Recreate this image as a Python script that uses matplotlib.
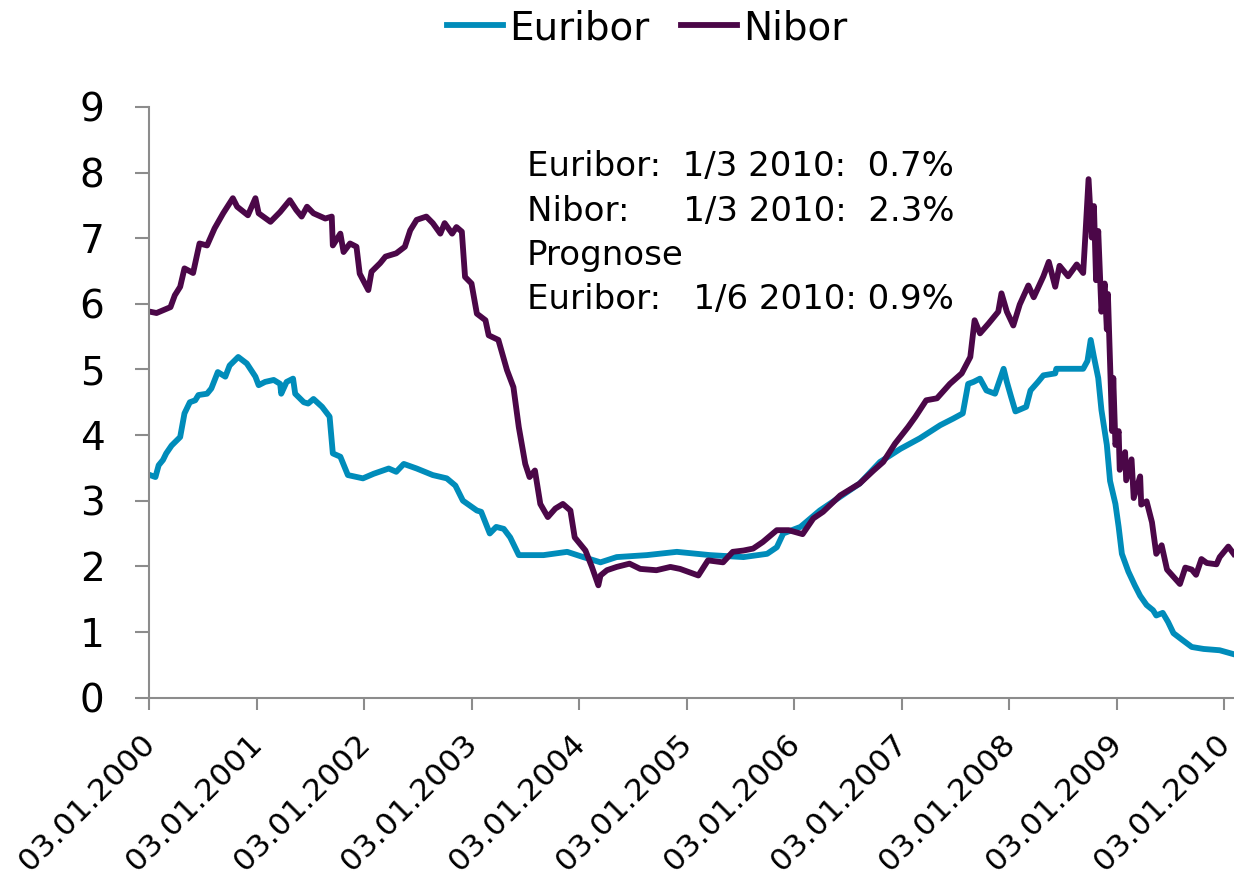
import matplotlib
matplotlib.use("Agg")
import matplotlib.pyplot as plt
from matplotlib.transforms import ScaledTranslation

# 3-month interest rates (x in decimal years from 03.01.2000)
euribor_t = [2000.01, 2000.06, 2000.09, 2000.13, 2000.16, 2000.21, 2000.29, 2000.33, 2000.38, 2000.43,
             2000.46, 2000.54, 2000.58, 2000.64, 2000.71, 2000.75, 2000.83, 2000.91, 2000.99, 2001.02,
             2001.08, 2001.16, 2001.22, 2001.23, 2001.28, 2001.34, 2001.36, 2001.44, 2001.48, 2001.53,
             2001.61, 2001.68, 2001.71, 2001.78, 2001.85, 2001.99, 2002.09, 2002.23, 2002.30, 2002.37,
             2002.49, 2002.64, 2002.77, 2002.85, 2002.92, 2003.05, 2003.09, 2003.17, 2003.23, 2003.30,
             2003.36, 2003.44, 2003.67, 2003.89, 2004.04, 2004.20, 2004.35, 2004.63, 2004.91, 2005.22,
             2005.53, 2005.75, 2005.84, 2005.90, 2006.06, 2006.24, 2006.43, 2006.61, 2006.80, 2006.99,
             2007.17, 2007.36, 2007.48, 2007.57, 2007.62, 2007.67, 2007.73, 2007.79, 2007.87, 2007.95,
             2007.98, 2008.02, 2008.06, 2008.16, 2008.20, 2008.27, 2008.32, 2008.43, 2008.44, 2008.69,
             2008.73, 2008.76, 2008.79, 2008.83, 2008.86, 2008.91, 2008.94, 2008.99, 2009.02, 2009.05,
             2009.11, 2009.17, 2009.22, 2009.28, 2009.34, 2009.37, 2009.43, 2009.48, 2009.53, 2009.61,
             2009.70, 2009.81, 2009.96, 2010.09]
euribor = [3.39, 3.36, 3.54, 3.62, 3.72, 3.84, 3.97, 4.33, 4.50, 4.53,
           4.61, 4.63, 4.71, 4.96, 4.89, 5.06, 5.19, 5.09, 4.89, 4.76,
           4.81, 4.84, 4.78, 4.63, 4.81, 4.86, 4.63, 4.50, 4.48, 4.55,
           4.43, 4.28, 3.72, 3.67, 3.39, 3.34, 3.41, 3.49, 3.44, 3.56,
           3.49, 3.39, 3.34, 3.23, 3.00, 2.85, 2.83, 2.50, 2.60, 2.57,
           2.44, 2.17, 2.17, 2.22, 2.14, 2.06, 2.14, 2.17, 2.22, 2.17,
           2.14, 2.19, 2.29, 2.50, 2.60, 2.85, 3.06, 3.26, 3.59, 3.79,
           3.95, 4.15, 4.25, 4.33, 4.78, 4.81, 4.86, 4.68, 4.63, 5.01,
           4.81, 4.58, 4.36, 4.43, 4.68, 4.81, 4.91, 4.94, 5.01, 5.01,
           5.13, 5.45, 5.19, 4.87, 4.38, 3.85, 3.30, 2.95, 2.60, 2.19,
           1.92, 1.71, 1.55, 1.41, 1.33, 1.25, 1.29, 1.15, 0.98, 0.88,
           0.77, 0.74, 0.72, 0.66]

nibor_t = [2000.01, 2000.07, 2000.20, 2000.24, 2000.29, 2000.33, 2000.41, 2000.47, 2000.54, 2000.61,
           2000.69, 2000.78, 2000.82, 2000.92, 2000.99, 2001.02, 2001.13, 2001.22, 2001.31, 2001.37,
           2001.42, 2001.47, 2001.53, 2001.64, 2001.70, 2001.71, 2001.78, 2001.81, 2001.87, 2001.93,
           2001.96, 2002.04, 2002.07, 2002.15, 2002.20, 2002.30, 2002.38, 2002.43, 2002.49, 2002.58,
           2002.64, 2002.71, 2002.75, 2002.82, 2002.86, 2002.91, 2002.94, 2003.00, 2003.05, 2003.13,
           2003.16, 2003.25, 2003.33, 2003.39, 2003.44, 2003.50, 2003.54, 2003.59, 2003.64, 2003.71,
           2003.78, 2003.85, 2003.92, 2003.96, 2004.06, 2004.12, 2004.18, 2004.20, 2004.26, 2004.35,
           2004.47, 2004.57, 2004.72, 2004.85, 2004.94, 2005.06, 2005.11, 2005.20, 2005.34, 2005.43,
           2005.53, 2005.62, 2005.71, 2005.84, 2005.95, 2006.08, 2006.18, 2006.27, 2006.43, 2006.61,
           2006.74, 2006.83, 2006.94, 2007.06, 2007.13, 2007.23, 2007.33, 2007.45, 2007.56, 2007.64,
           2007.68, 2007.73, 2007.81, 2007.90, 2007.93, 2007.98, 2008.04, 2008.10, 2008.18, 2008.23,
           2008.32, 2008.37, 2008.43, 2008.47, 2008.55, 2008.63, 2008.69, 2008.71, 2008.74, 2008.77,
           2008.79, 2008.81, 2008.83, 2008.85, 2008.86, 2008.89, 2008.91, 2008.92, 2008.96, 2008.97,
           2008.99, 2009.02, 2009.03, 2009.08, 2009.09, 2009.14, 2009.16, 2009.22, 2009.23, 2009.28,
           2009.33, 2009.37, 2009.42, 2009.47, 2009.53, 2009.59, 2009.64, 2009.70, 2009.74, 2009.79,
           2009.84, 2009.93, 2009.96, 2010.04, 2010.09]
nibor = [5.88, 5.86, 5.95, 6.13, 6.26, 6.54, 6.47, 6.92, 6.89, 7.15,
         7.38, 7.61, 7.48, 7.35, 7.61, 7.38, 7.25, 7.40, 7.58, 7.43,
         7.33, 7.48, 7.38, 7.30, 7.33, 6.89, 7.07, 6.79, 6.92, 6.87,
         6.46, 6.21, 6.49, 6.62, 6.72, 6.77, 6.87, 7.12, 7.28, 7.33,
         7.23, 7.07, 7.23, 7.07, 7.17, 7.10, 6.41, 6.31, 5.85, 5.75,
         5.52, 5.45, 4.99, 4.73, 4.12, 3.56, 3.36, 3.46, 2.95, 2.75,
         2.88, 2.95, 2.85, 2.44, 2.24, 1.99, 1.71, 1.86, 1.94, 1.99,
         2.04, 1.96, 1.94, 1.99, 1.96, 1.89, 1.86, 2.09, 2.06, 2.22,
         2.24, 2.27, 2.37, 2.55, 2.55, 2.49, 2.73, 2.83, 3.08, 3.26,
         3.46, 3.59, 3.87, 4.12, 4.28, 4.53, 4.56, 4.78, 4.94, 5.19,
         5.75, 5.55, 5.70, 5.88, 6.16, 5.88, 5.67, 5.99, 6.28, 6.10,
         6.42, 6.64, 6.26, 6.58, 6.42, 6.60, 6.47, 7.03, 7.90, 7.01,
         7.49, 6.36, 7.11, 6.31, 5.88, 6.31, 5.61, 6.15, 4.06, 4.87,
         3.85, 4.06, 3.47, 3.74, 3.31, 3.63, 3.04, 3.37, 2.94, 2.99,
         2.67, 2.19, 2.32, 1.95, 1.84, 1.73, 1.98, 1.95, 1.87, 2.11,
         2.05, 2.03, 2.14, 2.30, 2.19]

years = list(range(2000, 2011))
year_labels = ["03.01.%d" % y for y in years]

note_lines = ["Euribor:  1/3 2010:  0.7%",
              "Nibor:     1/3 2010:  2.3%",
              "Prognose",
              "Euribor:   1/6 2010: 0.9%"]

W, H = 1234, 890
fig = plt.figure(figsize=(W / 100, H / 100), dpi=100)
ax = fig.add_axes([149 / W, 1 - 697.5 / H, (W - 149) / W, (697.5 - 107) / H])

l1, = ax.plot(euribor_t, euribor, color="#008CBA", lw=4.2, solid_joinstyle="round", label="Euribor")
l2, = ax.plot(nibor_t, nibor, color="#4B0748", lw=4.2, solid_joinstyle="round", label="Nibor")

ax.set_xlim(2000, 2000 + (W - 149) / 107.5)
ax.set_ylim(0, 9)
ax.set_yticks(range(0, 10))
ax.set_xticks(years)
ax.set_xticklabels(year_labels, rotation=45, ha="right", va="top", rotation_mode="anchor")

for s in ["top", "right"]:
    ax.spines[s].set_visible(False)
for s in ["left", "bottom"]:
    ax.spines[s].set_color("#8C8C8C")
    ax.spines[s].set_linewidth(1.5)

ax.tick_params(axis="y", length=10, width=1.5, color="#8C8C8C", pad=22, labelsize=28)
ax.tick_params(axis="x", length=8.5, width=1.5, color="#8C8C8C", pad=14, labelsize=22.5)
for lab in ax.get_xticklabels():
    lab.set_transform(lab.get_transform() + ScaledTranslation(-0.09, 0, fig.dpi_scale_trans))

fig.legend(handles=[l1, l2], loc="center", bbox_to_anchor=(647 / W, 1 - 28 / H), ncol=2,
           frameon=False, fontsize=28, handlelength=1.45, handletextpad=0.15, columnspacing=0.8)

for i, line in enumerate(note_lines):
    fig.text(527 / W, 1 - (176 + i * 44.5) / H, line, fontsize=24.5, va="baseline", ha="left")

fig.savefig("out.png", dpi=100)
